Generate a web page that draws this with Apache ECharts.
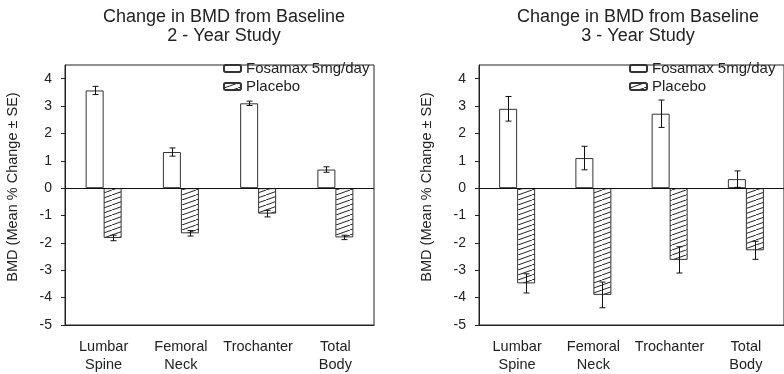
<!DOCTYPE html>
<html>
<head>
<meta charset="utf-8">
<script src="https://cdn.jsdelivr.net/npm/echarts@6/dist/echarts.min.js"></script>
<style>
  html, body { margin: 0; padding: 0; background: #fff; }
  #main { width: 784px; height: 374px; }
</style>
</head>
<body>
<div id="main"></div>
<script>
// values (mean % change and SE)
var categories = ['Lumbar\nSpine', 'Femoral\nNeck', 'Trochanter', 'Total\nBody'];
var yTicks = [-5, -4, -3, -2, -1, 0, 1, 2, 3, 4];
var titles = ['Change in BMD from Baseline\n2 - Year Study', 'Change in BMD from Baseline\n3 - Year Study'];
var seriesNames = ['Fosamax 5mg/day', 'Placebo'];

var fosamax2 = [3.57, 1.32, 3.1, 0.68];
var fosamax2Err = [0.15, 0.15, 0.08, 0.1];
var placebo2 = [-1.82, -1.65, -0.93, -1.8];
var placebo2Err = [0.1, 0.1, 0.12, 0.08];

var fosamax3 = [2.9, 1.1, 2.72, 0.33];
var fosamax3Err = [0.45, 0.43, 0.5, 0.3];
var placebo3 = [-3.48, -3.9, -2.62, -2.27];
var placebo3Err = [0.35, 0.47, 0.48, 0.33];

var font = "'Liberation Sans', Arial, sans-serif";
var ink = '#222';

// diagonal hatch for the placebo bars
var hatch = document.createElement('canvas');
hatch.width = 14;
hatch.height = 5;
var ctx = hatch.getContext('2d');
ctx.fillStyle = '#fff';
ctx.fillRect(0, 0, 14, 5);
ctx.strokeStyle = '#222';
ctx.lineWidth = 1;
ctx.beginPath();
ctx.moveTo(-14, 10);
ctx.lineTo(28, -5);
ctx.stroke();

function errorBars(offset) {
  return function (params, api) {
    var x = Math.round(api.coord([api.value(0), 0])[0] + offset) + 0.5;
    var hi = api.coord([api.value(0), api.value(1) + api.value(2)])[1];
    var lo = api.coord([api.value(0), api.value(1) - api.value(2)])[1];
    var st = { stroke: '#111', lineWidth: 1 };
    return {
      type: 'group',
      children: [
        { type: 'line', shape: { x1: x, y1: hi, x2: x, y2: lo }, style: st },
        { type: 'line', shape: { x1: x - 3, y1: hi, x2: x + 3, y2: hi }, style: st },
        { type: 'line', shape: { x1: x - 3, y1: lo, x2: x + 3, y2: lo }, style: st }
      ]
    };
  };
}

function errData(vals, errs) {
  return vals.map(function (v, i) { return [i, v, errs[i]]; });
}

var grids = [
  { left: 65, top: 65, width: 309, height: 260, show: true, borderColor: ink, borderWidth: 1, backgroundColor: '#fff' },
  { left: 479, top: 65, width: 309, height: 260, show: true, borderColor: ink, borderWidth: 1, backgroundColor: '#fff' }
];

var xAxes = [0, 1].map(function (g) {
  return {
    type: 'category',
    gridIndex: g,
    data: categories,
    axisLine: { onZero: false, lineStyle: { color: ink } },
    axisTick: { alignWithLabel: true, length: 4, lineStyle: { color: ink } },
    axisLabel: { interval: 0, margin: 13, fontSize: 14.5, lineHeight: 18, color: ink, fontFamily: font },
    splitLine: { show: false }
  };
});

var yAxes = [0, 1].map(function (g) {
  return {
    type: 'value',
    gridIndex: g,
    min: -5,
    max: 4.5,
    interval: 1,
    name: 'BMD (Mean % Change \u00b1 SE)',
    nameLocation: 'middle',
    nameGap: 45,
    nameTextStyle: { fontSize: 14.5, color: ink, fontFamily: font, padding: [0, 0, 0, 16] },
    axisLine: { show: true, onZero: false, lineStyle: { color: ink } },
    axisTick: { show: true, length: 4, customValues: yTicks, lineStyle: { color: ink } },
    axisLabel: { margin: 13, fontSize: 14, color: ink, fontFamily: font, customValues: yTicks },
    splitLine: { show: false }
  };
});

var panels = [
  { f: fosamax2, fe: fosamax2Err, p: placebo2, pe: placebo2Err },
  { f: fosamax3, fe: fosamax3Err, p: placebo3, pe: placebo3Err }
];

var series = [];
panels.forEach(function (d, g) {
  series.push({
    name: seriesNames[0],
    type: 'bar',
    xAxisIndex: g,
    yAxisIndex: g,
    data: d.f,
    barWidth: 18,
    barGap: '0%',
    itemStyle: { color: '#fff', borderColor: '#333', borderWidth: 1 },
    markLine: {
      silent: true,
      symbol: 'none',
      label: { show: false },
      lineStyle: { color: '#111', type: 'solid', width: 1 },
      data: [{ yAxis: 0 }]
    },
    z: 2
  });
  series.push({
    name: seriesNames[1],
    type: 'bar',
    xAxisIndex: g,
    yAxisIndex: g,
    data: d.p,
    barWidth: 18,
    barGap: '0%',
    itemStyle: { color: { image: hatch, repeat: 'repeat' }, borderColor: '#333', borderWidth: 1 },
    z: 2
  });
  series.push({
    type: 'custom',
    xAxisIndex: g,
    yAxisIndex: g,
    renderItem: errorBars(-9),
    data: errData(d.f, d.fe),
    encode: { x: 0, y: 1 },
    z: 5
  });
  series.push({
    type: 'custom',
    xAxisIndex: g,
    yAxisIndex: g,
    renderItem: errorBars(9),
    data: errData(d.p, d.pe),
    encode: { x: 0, y: 1 },
    z: 5
  });
});

var chart = echarts.init(document.getElementById('main'));
chart.setOption({
  animation: false,
  backgroundColor: '#fff',
  title: [
    { text: titles[0], left: 219, top: 3, textAlign: 'center',
      textStyle: { fontSize: 18, fontWeight: 'normal', lineHeight: 19, color: ink, fontFamily: font } },
    { text: titles[1], left: 633, top: 3, textAlign: 'center',
      textStyle: { fontSize: 18, fontWeight: 'normal', lineHeight: 19, color: ink, fontFamily: font } }
  ],
  legend: [
    { data: seriesNames, orient: 'vertical', left: 223, top: 61, padding: 0, itemWidth: 17, itemHeight: 7, itemGap: 3,
      selectedMode: false, textStyle: { fontSize: 15, color: ink, fontFamily: font } },
    { data: seriesNames, orient: 'vertical', left: 629, top: 61, padding: 0, itemWidth: 17, itemHeight: 7, itemGap: 3,
      selectedMode: false, textStyle: { fontSize: 15, color: ink, fontFamily: font } }
  ],
  grid: grids,
  xAxis: xAxes,
  yAxis: yAxes,
  series: series
});
</script>
</body>
</html>
